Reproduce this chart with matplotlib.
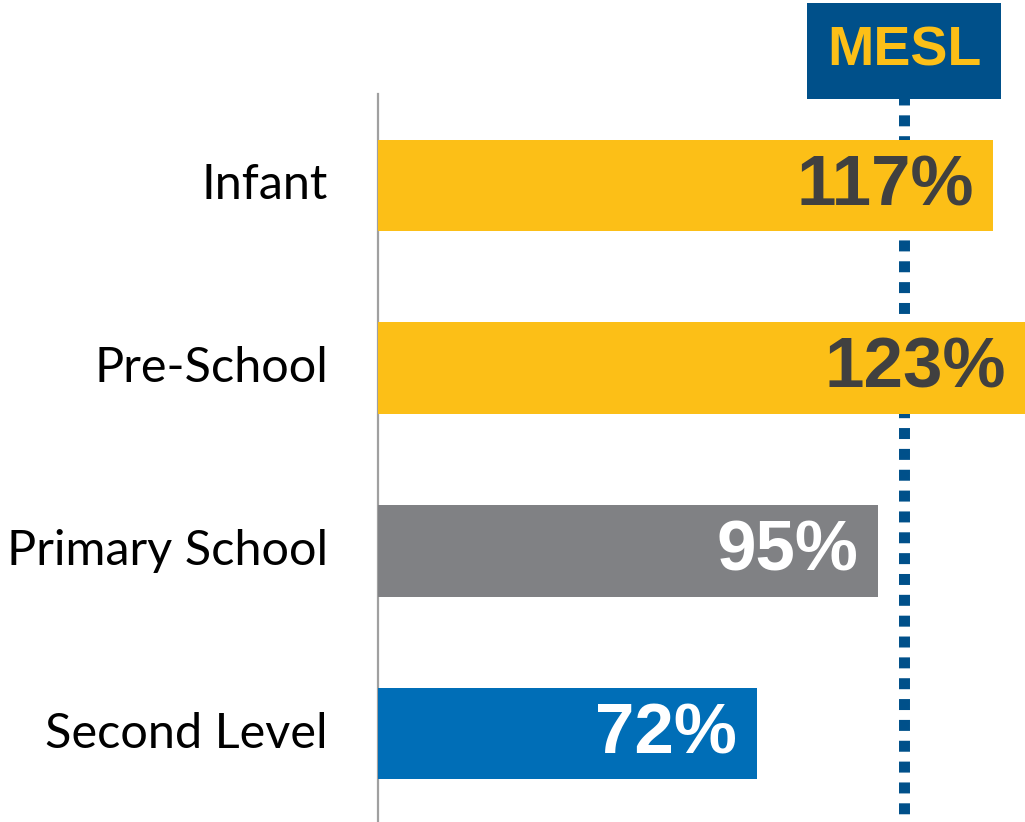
import matplotlib
matplotlib.use("Agg")
import matplotlib.pyplot as plt
import matplotlib.transforms as mtransforms
from matplotlib.patches import Rectangle

# data
categories = ["Infant", "Pre-School", "Primary School", "Second Level"]
values = [117, 123, 95, 72]
bar_colors = ["#FCBF17", "#FCBF17", "#808184", "#006EB7"]
value_colors = ["#404040", "#404040", "#FFFFFF", "#FFFFFF"]
mesl_value = 100
mesl_label = "MESL"

dark_blue = "#00508A"

fig = plt.figure(figsize=(10.25, 8.22), dpi=100)
ax = fig.add_axes([378 / 1025, 0, 647 / 1025, 728 / 822])

ypos = list(range(len(categories)))
ax.barh(ypos, values, height=0.5, color=bar_colors, zorder=3)

# value labels inside the bars, right aligned
for y, v, c in zip(ypos, values, value_colors):
    ax.text(v - 3.7, y + 0.01, f"{v}%", ha="right", va="center",
            fontsize=51, fontweight="bold", color=c,
            family="Liberation Sans", zorder=4)

# MESL dotted line (behind the bars)
ax.plot([mesl_value, mesl_value], [-0.5, 3.7], color=dark_blue, lw=7.9,
        dashes=(1.0, 0.9), solid_capstyle="butt", dash_capstyle="butt",
        zorder=1, clip_on=False)

ax.set_xlim(0, 123)
ax.set_ylim(3.484, -0.5)

ax.set_yticks(ypos)
ax.set_yticklabels(categories, fontsize=35, family="Lato", color="black",
                   va="center")
ax.tick_params(axis="y", length=0, pad=36)
ax.set_xticks([])

for side in ["top", "right", "bottom"]:
    ax.spines[side].set_visible(False)
ax.spines["left"].set_color("#A0A0A0")
ax.spines["left"].set_linewidth(1.6)

# MESL label box at top
trans = mtransforms.blended_transform_factory(ax.transData, fig.transFigure)
box_half = 18.4
ax.add_patch(Rectangle((mesl_value - box_half, 1 - 99 / 822), 2 * box_half, 96 / 822,
                       transform=trans, facecolor=dark_blue, edgecolor="none",
                       clip_on=False, zorder=5))
ax.text(mesl_value, 1 - 51 / 822, mesl_label, transform=trans, ha="center",
        va="center", fontsize=40, fontweight="bold", color="#FCBF17",
        family="Liberation Sans", zorder=6)

fig.savefig("out.png", dpi=100)
